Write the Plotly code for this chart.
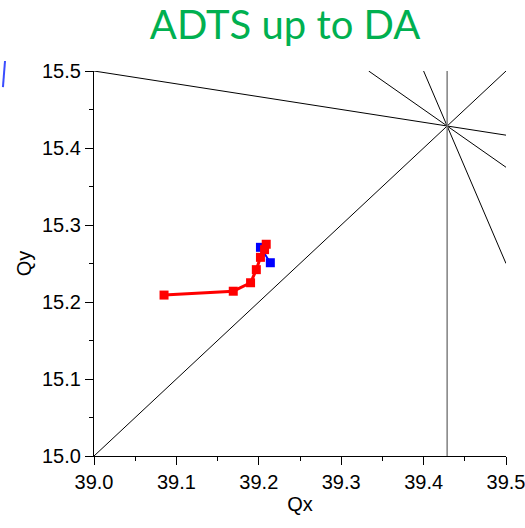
import plotly.graph_objects as go

# Tune footprint under amplitude-dependent tune shift (ADTS), up to the dynamic aperture
red_qx = [39.085, 39.169, 39.190, 39.197, 39.202, 39.207, 39.209]
red_qy = [15.209, 15.214, 15.225, 15.242, 15.258, 15.268, 15.275]

blue_qx = [39.202, 39.214]
blue_qy = [15.271, 15.251]

# Resonance lines a*Qx + b*Qy = n
res_a = [1, 1, 3, 5, 7]
res_b = [-1, 6, 4, 2, 0]
res_n = [24, 132, 180, 228, 276]
res_color = ["black", "black", "black", "black", "#808080"]

x_range = [39.0, 39.5]
y_range = [15.0, 15.5]
x_ticks = [39.0, 39.1, 39.2, 39.3, 39.4, 39.5]
y_ticks = [15.0, 15.1, 15.2, 15.3, 15.4, 15.5]


def clip_line(a, b, n):
    """Return the segment of a*x + b*y = n that lies inside the tune box."""
    pts = []
    x0, x1 = x_range
    y0, y1 = y_range
    eps = 1e-9
    if b != 0:
        for x in (x0, x1):
            y = (n - a * x) / b
            if y0 - eps <= y <= y1 + eps:
                pts.append((x, y))
    if a != 0:
        for y in (y0, y1):
            x = (n - b * y) / a
            if x0 - eps <= x <= x1 + eps:
                pts.append((x, y))
    uniq = []
    for p in pts:
        if all(abs(p[0] - q[0]) > 1e-7 or abs(p[1] - q[1]) > 1e-7 for q in uniq):
            uniq.append(p)
    return uniq[:2]


fig = go.Figure()

for a, b, n, c in zip(res_a, res_b, res_n, res_color):
    seg = clip_line(a, b, n)
    fig.add_trace(go.Scatter(
        x=[p[0] for p in seg], y=[p[1] for p in seg], mode="lines",
        line=dict(color=c, width=1.5 if c != "black" else 1), hoverinfo="skip",
        showlegend=False))

fig.add_trace(go.Scatter(
    x=blue_qx, y=blue_qy, mode="lines+markers",
    line=dict(color="#0000ff", width=2),
    marker=dict(symbol="square", size=9, color="#0000ff"),
    showlegend=False))

fig.add_trace(go.Scatter(
    x=red_qx, y=red_qy, mode="lines+markers",
    line=dict(color="#ff0000", width=3),
    marker=dict(symbol="square", size=9, color="#ff0000"),
    showlegend=False))

axis_font = dict(family="Liberation Sans, Arial, sans-serif", size=20, color="black")

fig.update_layout(
    width=525, height=528,
    margin=dict(l=94, r=19, t=71, b=72, autoexpand=False),
    paper_bgcolor="white", plot_bgcolor="white",
    font=axis_font,
    title=dict(text="ADTS up to DA", x=0.543, xanchor="center",
               y=0.952, yanchor="middle",
               font=dict(family="Lato, Open Sans, sans-serif", size=40, color="#00b050")),
    showlegend=False,
    # small blue pen stroke near the top-left corner
    shapes=[dict(type="line", xref="paper", yref="paper",
                 x0=-0.216, y0=1.026, x1=-0.221, y1=0.958,
                 line=dict(color="#3a4dff", width=2))],
)

fig.update_xaxes(
    range=x_range, tickvals=x_ticks, ticktext=[f"{v:.1f}" for v in x_ticks],
    showline=True, linecolor="black", linewidth=1.3, showgrid=False, zeroline=False,
    ticks="outside", ticklen=8, tickwidth=1.3, tickcolor="black",
    minor=dict(ticks="outside", ticklen=4, tickwidth=1, tickcolor="black",
               dtick=0.05, showgrid=False),
    title=dict(text="Qx", standoff=4, font=axis_font), tickfont=axis_font,
    automargin=False, ticklabeloverflow="allow",
)
fig.update_yaxes(
    range=y_range, tickvals=y_ticks, ticktext=[f"{v:.1f}" for v in y_ticks],
    showline=True, linecolor="black", linewidth=1.3, showgrid=False, zeroline=False,
    ticks="outside", ticklen=8, tickwidth=1.3, tickcolor="black",
    minor=dict(ticks="outside", ticklen=4, tickwidth=1, tickcolor="black",
               dtick=0.05, showgrid=False),
    title=dict(text="Qy", standoff=4, font=axis_font), tickfont=axis_font,
    automargin=False, ticklabeloverflow="allow",
)

fig.write_html("out.html")
